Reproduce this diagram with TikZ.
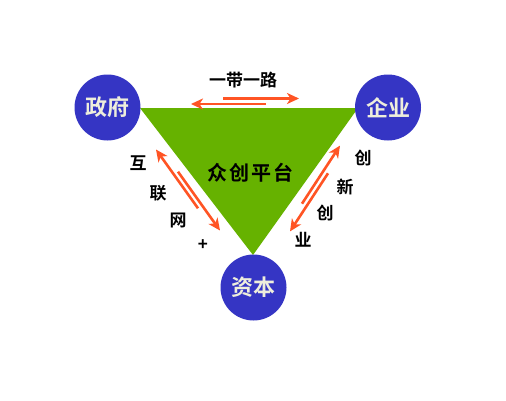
\documentclass[tikz,border=0pt]{standalone}
\usepackage{fontspec}
\newfontfamily\cjk{Noto Sans CJK SC}[BoldFont={Noto Sans CJK SC Bold}]
\usetikzlibrary{arrows.meta}
\definecolor{circblue}{HTML}{3535C4}
\definecolor{trigreen}{HTML}{66B200}
\definecolor{arrred}{HTML}{FF5424}
\definecolor{circtext}{HTML}{EEEEDC}
\tikzset{
  party/.style={circle,fill=circblue,minimum size=66pt,inner sep=0pt,text=circtext,font=\cjk\bfseries\fontsize{22}{22}\selectfont},
  lab/.style={inner sep=0pt,text=black,font=\cjk\bfseries\fontsize{17}{17}\selectfont},
  flow/.style={draw=arrred,line width=2.6pt,-{Stealth[length=12pt,width=11pt,inset=3.5pt]}}
}
\begin{document}
\begin{tikzpicture}[x=1pt,y=-1pt]
\useasboundingbox (0,0) rectangle (506,400);
\fill[white] (0,0) rectangle (506,400);
% triangle
\coordinate (tl) at (140,108);
\coordinate (tr) at (358,108);
\coordinate (bt) at (253,255);
\fill[trigreen] (tl) -- (tr) -- (bt) -- cycle;
\node[lab,font=\cjk\bfseries\fontsize{20}{20}\selectfont] (plat) at (250,173) {众\hspace{2pt}创\hspace{2pt}平\hspace{2pt}台};
% circles
\node[party] (gov) at (107.5,107.5) {政府};
\node[party] (ent) at (388,107.5) {企业};
\node[party] (cap) at (253.5,287.5) {资本};
% top arrows
\coordinate (t1s) at (223,98.5);
\coordinate (t1e) at (299,98.5);
\coordinate (t2s) at (266,104);
\coordinate (t2e) at (191,104);
\draw[flow] (t1s) -- (t1e);
\draw[flow] (t2s) -- (t2e);
% left arrows
\coordinate (l1s) at (198,208.3);
\coordinate (l1e) at (156,149.5);
\coordinate (l2s) at (178,171.7);
\coordinate (l2e) at (220,230.5);
\draw[flow] (l1s) -- (l1e);
\draw[flow] (l2s) -- (l2e);
% right arrows
\coordinate (r1s) at (302,203.7);
\coordinate (r1e) at (340,145.6);
\coordinate (r2s) at (328,173.3);
\coordinate (r2e) at (290,231.4);
\draw[flow] (r1s) -- (r1e);
\draw[flow] (r2s) -- (r2e);
% labels
\node[lab] (ydyl) at (243,80) {一带一路};
\node[lab] (h1) at (138,163) {互};
\node[lab] (h2) at (158,193) {联};
\node[lab] (h3) at (178,220) {网};
\node[lab] (h4) at (203,245) {+};
\node[lab] (c1) at (363,158) {创};
\node[lab] (c2) at (345,187) {新};
\node[lab] (c3) at (325,213) {创};
\node[lab] (c4) at (303,240) {业};
\end{tikzpicture}
\end{document}
